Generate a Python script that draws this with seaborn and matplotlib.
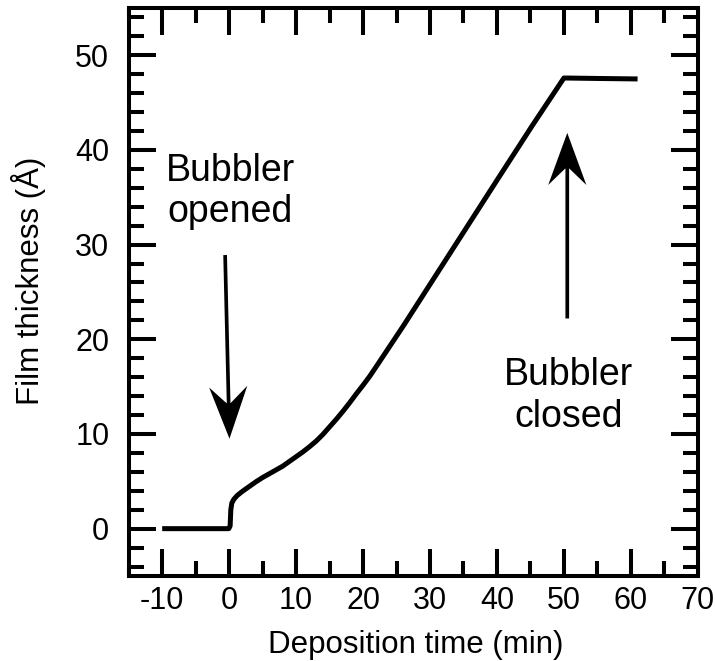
import matplotlib
matplotlib.use("Agg")
import matplotlib.pyplot as plt
from matplotlib.ticker import MultipleLocator
import numpy as np
import pandas as pd
import seaborn as sns

# ---- data ----
time_min = [-10, -7, -4, -1, -0.05, 0.15, 0.25, 0.4, 0.7, 1.2, 2.0, 3.0, 4.0, 5.0, 6.0,
            7.0, 8.0, 9.0, 10, 11, 12, 13, 14, 15, 16, 17, 18, 19, 20, 21, 22,
            26, 31, 36, 40, 45.3, 50, 55, 61]
thickness = [0.0, 0.0, 0.0, 0.0, 0.0, 0.3, 2.0, 2.7, 3.1, 3.5, 3.95, 4.45, 4.95, 5.4, 5.8,
             6.2, 6.6, 7.1, 7.6, 8.1, 8.65, 9.25, 9.95, 10.75, 11.55, 12.4, 13.3, 14.25,
             15.15, 16.1, 17.15, 21.4, 26.9, 32.4, 36.8, 42.6, 47.6, 47.55, 47.5]

x_ticks = [-10, 0, 10, 20, 30, 40, 50, 60, 70]
y_ticks = [0, 10, 20, 30, 40, 50]

label_open = "Bubbler\nopened"
label_close = "Bubbler\nclosed"
# annotation anchors (text centre, arrow tail, arrow tip) in data units
open_text = (0.15, 35.6)
open_tail = (-0.6, 28.9)
open_tip = (0.05, 9.5)
close_text = (50.7, 14.0)
close_tail = (50.5, 22.2)
close_tip = (50.5, 41.8)

df = pd.DataFrame({"time": time_min, "thickness": thickness})

sns.set_theme(style="ticks")
plt.rcParams["font.family"] = ["Liberation Sans", "DejaVu Sans"]

fig = plt.figure(figsize=(7.15, 6.61), dpi=100)
ax = fig.add_axes([0.180, 0.1286, 0.796, 0.8594])

sns.lineplot(data=df, x="time", y="thickness", ax=ax, color="black",
             linewidth=3.6, sort=False, solid_joinstyle="round", solid_capstyle="butt")

ax.set_xlim(-15, 70)
ax.set_ylim(-5, 55)
ax.set_xticks(x_ticks)
ax.set_yticks(y_ticks)
ax.set_xticklabels([str(v) for v in x_ticks])
ax.set_yticklabels([str(v) for v in y_ticks])
ax.xaxis.set_minor_locator(MultipleLocator(5))
ax.yaxis.set_minor_locator(MultipleLocator(2))

for s in ax.spines.values():
    s.set_visible(True)
    s.set_linewidth(2.9)
    s.set_color("black")

ax.tick_params(which="both", direction="in", top=True, right=True,
               width=2.9, color="black", labelcolor="black")
ax.tick_params(which="major", length=19.5, labelsize=22)
ax.tick_params(axis="x", which="major", pad=7)
ax.tick_params(axis="y", which="major", pad=14)
ax.tick_params(which="minor", length=10.5)

ax.set_xlabel("Deposition time (min)", fontsize=22.5, color="black")
ax.set_ylabel("Film thickness (Å)", fontsize=22.5, color="black")
ax.xaxis.set_label_coords(0.504, -0.095)
ax.yaxis.set_label_coords(-0.146, 0.519)

ax.text(*open_text, label_open, fontsize=27, ha="center", va="center", color="black")
ax.text(*close_text, label_close, fontsize=27, ha="center", va="center", color="black")

for tail, tip in [(open_tail, open_tip), (close_tail, close_tip)]:
    ax.arrow(tail[0], tail[1], tip[0] - tail[0], tip[1] - tail[1],
             width=0.55, head_width=5.7, head_length=5.5, overhang=0.32,
             length_includes_head=True, color="black", linewidth=0)

ax.grid(False)
fig.savefig("out.png", dpi=100, facecolor="white")
